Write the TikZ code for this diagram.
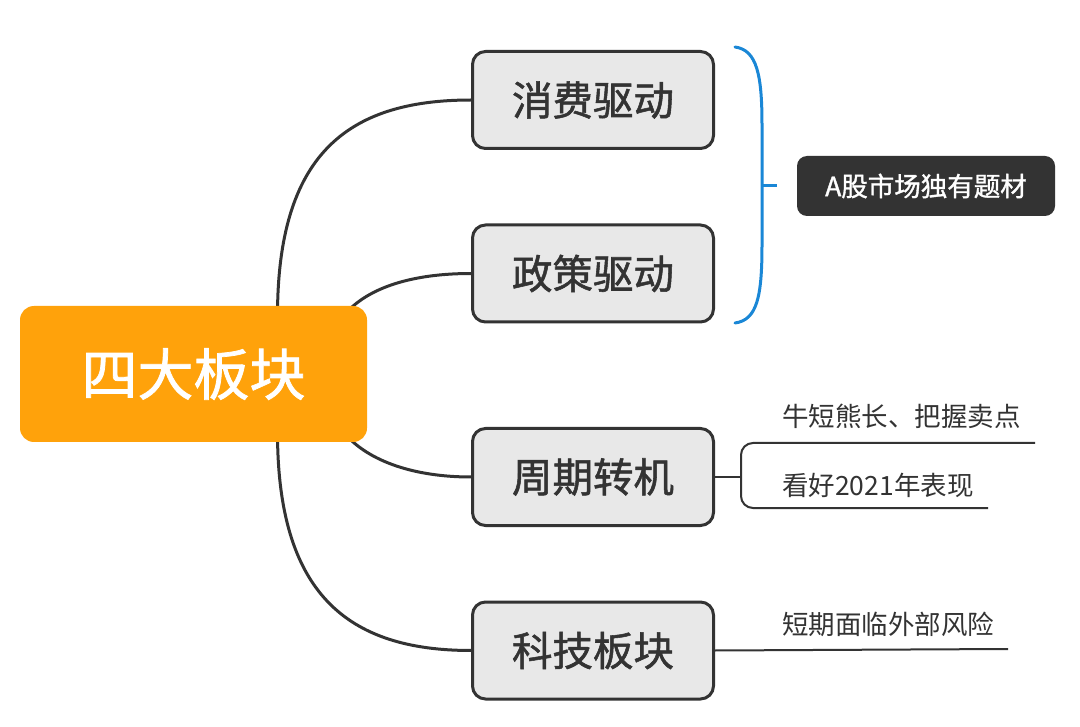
\documentclass[tikz,border=0pt]{standalone}
\usepackage{fontspec}
\setmainfont{Noto Sans CJK SC}
\newfontfamily\cjk{Noto Sans CJK SC}
\newfontfamily\cjkmed[FakeBold=1.3]{Noto Sans CJK SC}
\usetikzlibrary{calc,backgrounds}
\definecolor{rootorange}{HTML}{FFA20B}
\definecolor{boxgray}{HTML}{E8E8E8}
\definecolor{darkline}{HTML}{333333}
\definecolor{bracecol}{HTML}{1A87D6}
\tikzset{
  rootbox/.style={fill=rootorange, draw=none, rounded corners=14pt, minimum width=347pt, minimum height=136pt, text=white, font=\cjkmed\fontsize{56}{60}\selectfont, inner sep=0pt},
  branchbox/.style={fill=boxgray, draw=darkline, line width=3pt, rounded corners=13pt, minimum width=241pt, minimum height=97pt, text=darkline, font=\cjkmed\fontsize{40.5}{44}\selectfont, inner sep=0pt},
  notebox/.style={fill=darkline, draw=none, rounded corners=10pt, minimum width=258pt, minimum height=60pt, text=white, font=\cjkmed\fontsize{26.5}{30}\selectfont, inner sep=0pt},
  subtext/.style={anchor=west, text=darkline, font=\cjk\fontsize{26.5}{30}\selectfont, inner sep=0pt},
  conn/.style={draw=darkline, line width=3pt},
  thinconn/.style={draw=darkline, line width=2pt},
  bracestyle/.style={draw=bracecol, line width=3pt, line cap=round}
}
\begin{document}
\begin{tikzpicture}[x=1pt,y=-1pt]
\useasboundingbox (0,0) rectangle (1080,727);

\node[rootbox] (root) at (193.5,374) {四大板块};
\node[branchbox] (b1) at (593,100) {消费驱动};
\node[branchbox] (b2) at (593,273.5) {政策驱动};
\node[branchbox] (b3) at (593,477) {周期转机};
\node[branchbox] (b4) at (593,650.5) {科技板块};
\node[notebox] (note) at (926,186) {A股市场独有题材};

\node[subtext] (s1) at (782,416) {牛短熊长、把握卖点};
\node[subtext] (s2) at (782,485) {看好2021年表现};
\node[subtext] (s3) at (782,624) {短期面临外部风险};

\begin{scope}[on background layer]
\fill[white] (0,0) rectangle (1080,727);
\draw[conn] ($(root.north)+(84,10)$) .. controls +(0,-160) and +(-125,0) .. (b1.west);
\draw[conn] ($(root.north)+(150,10)$) .. controls +(25,-30) and +(-55,0) .. (b2.west);
\draw[conn] ($(root.south)+(150,-10)$) .. controls +(25,30) and +(-55,0) .. (b3.west);
\draw[conn] ($(root.south)+(84,-10)$) .. controls +(0,160) and +(-125,0) .. (b4.west);
\end{scope}

% brace
\draw[bracestyle] (735,47) .. controls (757,50) and (762,75) .. (762,125) -- (762,245) .. controls (762,297) and (757,320) .. (735,323);
\draw[bracestyle, line cap=butt] (762,186) -- (777,186);

% sub-branches of b3
\coordinate (j3) at (741,477);
\draw[thinconn] (b3.east) -- (j3);
\draw[thinconn, rounded corners=12pt] (1035,443) -- (741,443) -- (741,508) -- (988,508);
% sub-branch of b4
\draw[thinconn] (b4.east) -- (1008,649);
\end{tikzpicture}
\end{document}
